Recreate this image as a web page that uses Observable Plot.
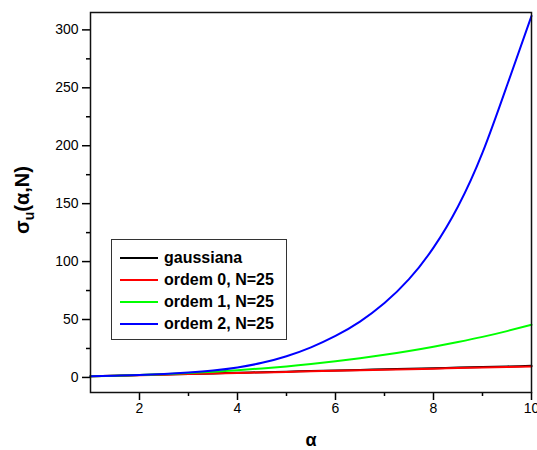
<!DOCTYPE html>
<html><head><meta charset="utf-8">
<script src="https://cdn.jsdelivr.net/npm/d3@7"></script>
<script src="https://cdn.jsdelivr.net/npm/@observablehq/plot@0.6"></script>
<style>
body{margin:0;background:#fff;font-family:"Liberation Sans",Arial,sans-serif;}
#wrap{position:relative;width:537px;height:450px;}
#legend{position:absolute;left:111px;top:239px;width:174px;height:99px;border:1px solid #333;background:#fff;}
.row{position:absolute;left:8px;height:20px;display:flex;align-items:center;white-space:nowrap;}
.sw{width:38px;height:2px;margin-right:6px;}
.lab{font-weight:bold;font-size:16px;color:#000;}
</style></head><body>
<div id="wrap"></div>
<script>
const alpha     = [1,1.5,2,2.5,3,3.5,4,4.5,5,5.5,6,6.5,7,7.5,8,8.5,9,9.5,10];
const gaussiana = [1,1.5,2,2.5,3,3.5,4,4.5,5,5.5,6,6.5,7,7.5,8,8.5,9,9.5,10];
const ordem0    = [1,1.47,1.95,2.42,2.9,3.37,3.85,4.32,4.8,5.25,5.7,6.18,6.65,7.12,7.6,8.05,8.5,8.95,9.4];
const ordem1    = [1,1.5,2,2.8,3.8,5,6.3,7.8,9.5,11.6,14,16.6,19.5,22.8,26.5,30.6,35,40,45.4];
const ordem2    = [1,1.5,2.1,3.0,4.3,6.0,8.6,12.6,18.3,26,35.8,48.2,64.2,84.8,112,147.5,194,252,312];

const seriesNames  = ["gaussiana","ordem 0, N=25","ordem 1, N=25","ordem 2, N=25"];
const seriesValues = [gaussiana, ordem0, ordem1, ordem2];
const seriesColors = ["#000000","#ff0000","#00ff00","#0000ff"];

const xMajor = [2,4,6,8,10];
const xMinor = [3,5,7,9];
const yMajor = [0,50,100,150,200,250,300];
const yMinor = [25,75,125,175,225,275];

const rows = [];
seriesNames.forEach((name, i) => {
  alpha.forEach((a, j) => rows.push({series: name, alpha: a, value: seriesValues[i][j]}));
});

const svg = Plot.plot({
  width: 537, height: 450,
  marginLeft: 90, marginRight: 6, marginTop: 12, marginBottom: 58,
  style: {fontFamily: "'Liberation Sans', Arial, sans-serif", fontSize: "14px", color: "#000", background: "#fff"},
  x: {domain: [1, 10]},
  y: {domain: [-13, 315]},
  color: {domain: seriesNames, range: seriesColors},
  marks: [
    Plot.axisX({ticks: xMajor, tickSize: 8, tickPadding: 3, strokeWidth: 1.5, label: null, fontSize: 14}),
    Plot.axisX({ticks: xMinor, tickSize: 4, strokeWidth: 1.5, tickFormat: () => "", label: null}),
    Plot.axisY({ticks: yMajor, tickSize: 8, tickPadding: 4, strokeWidth: 1.5, label: null, fontSize: 14}),
    Plot.axisY({ticks: yMinor, tickSize: 4, strokeWidth: 1.5, tickFormat: () => "", label: null}),
    Plot.line(rows, {x: "alpha", y: "value", z: "series", stroke: "series", strokeWidth: 2, curve: "natural"}),
    Plot.frame({stroke: "#111", strokeWidth: 1.5})
  ]
});

const s = d3.select(svg);
const yl = s.append("text")
  .attr("transform", "translate(29,200) rotate(-90)")
  .attr("text-anchor", "middle")
  .style("font", "bold 20px 'Liberation Sans', Arial, sans-serif")
  .attr("fill", "#000");
yl.append("tspan").text("σ");
yl.append("tspan").attr("dy", 5).style("font-size", "14px").text("u");
yl.append("tspan").attr("dy", -5).text("(α,N)");

s.append("text")
  .attr("x", 311).attr("y", 446)
  .attr("text-anchor", "middle")
  .style("font", "bold 18px 'Liberation Sans', Arial, sans-serif")
  .attr("fill", "#000")
  .text("α");

const wrap = document.getElementById("wrap");
wrap.appendChild(svg);

const legend = document.createElement("div");
legend.id = "legend";
const rowTops = [7.5, 29.5, 51.5, 74];
seriesNames.forEach((name, i) => {
  const r = document.createElement("div");
  r.className = "row";
  r.style.top = rowTops[i] + "px";
  const sw = document.createElement("div");
  sw.className = "sw";
  sw.style.background = seriesColors[i];
  const lab = document.createElement("span");
  lab.className = "lab";
  lab.textContent = name;
  r.appendChild(sw); r.appendChild(lab);
  legend.appendChild(r);
});
wrap.appendChild(legend);
</script>
</body></html>
